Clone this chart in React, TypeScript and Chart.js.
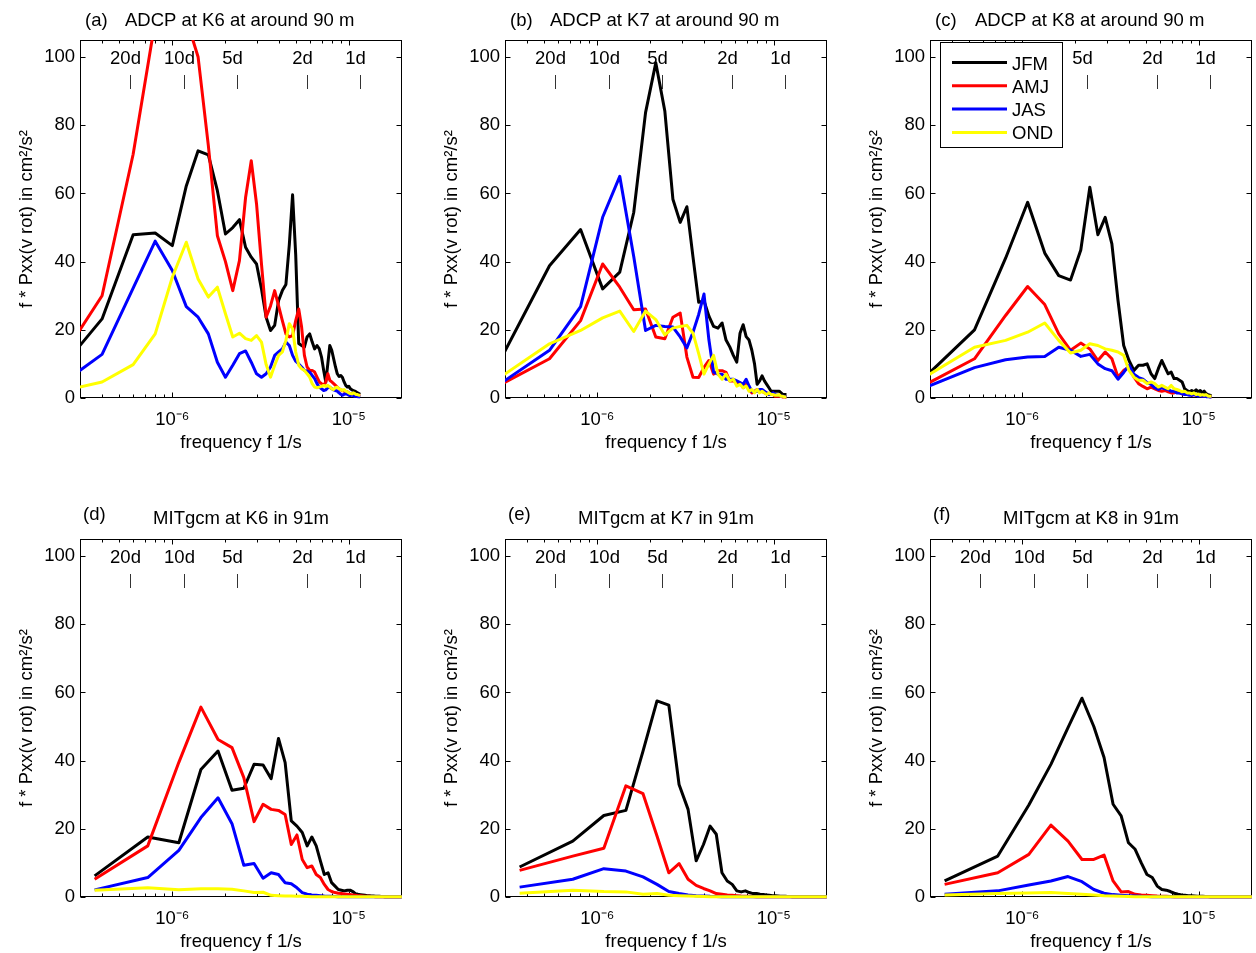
import React, { useEffect, useRef } from 'react';
import { Chart, registerables } from 'chart.js';

Chart.register(...registerables);

// ---------- DATA ----------
// frequency grids (units of 1e-7 Hz)
const FREQ_ADCP_K6 = [
  2, 4, 6, 8, 10, 12, 14, 16, 18, 20,
  22, 24, 26, 28, 30, 32, 34, 36, 38, 40,
  42, 44, 46, 48, 50, 52, 54, 56, 58, 60,
  62, 64, 66, 68, 70, 72, 74, 76, 78, 80,
  82, 84, 86, 88, 90, 92, 94, 96, 98, 100,
  102, 104, 106, 108, 110, 112, 114, 116,
];
const FREQ_ADCP_K7_K8 = [
  2.68, 5.36, 8.04, 10.72, 13.4, 16.08, 18.76, 21.44, 24.12, 26.8,
  29.48, 32.16, 34.84, 37.52, 40.2, 42.88, 45.56, 48.24, 50.92, 53.6,
  56.28, 58.96, 61.64, 64.32, 67.0, 69.68, 72.36, 75.04, 77.72, 80.4,
  83.08, 85.76, 88.44, 91.12, 93.8, 96.48, 99.16, 101.84, 104.52, 107.2,
  109.88, 112.56, 115.24, 117.92,
];
const FREQ_MITGCM = [
  3.63, 7.26, 10.89, 14.52, 18.15, 21.78, 25.41, 29.04, 32.67, 36.3,
  39.93, 43.56, 47.19, 50.82, 54.45, 58.08, 61.71, 65.34, 68.97, 72.6,
  76.23, 79.86, 83.49, 87.12, 90.75, 94.38, 98.01, 101.64, 105.27, 108.9,
  112.53, 116.16, 119.79, 123.42, 127.05, 130.68, 134.31, 137.94, 141.57, 145.2,
  148.83, 152.46, 156.09, 159.72, 163.35, 166.98, 170.61, 174.24, 177.87, 181.5,
  185.13, 188.76, 192.39, 196.02, 199.65,
];

const SEASONS = ['JFM', 'AMJ', 'JAS', 'OND'];
const SEASON_COLORS = ['#000000', '#ff0000', '#0000ff', '#ffff00'];

// (a) ADCP K6
const A_JFM = [
  4.4, 23.2, 47.9, 48.4, 44.7, 62.2, 72.5, 71.3, 60.8, 48.1,
  50, 52.3, 44.2, 41.3, 39.3, 32, 23.7, 19.8, 21.3, 28.6,
  31.5, 33.3, 45, 59.6, 42, 16, 15.4, 14.9, 17.9, 18.8,
  16.4, 14.4, 15.4, 14.4, 12, 8.1, 4.7, 10, 15.4, 14,
  11.5, 9.1, 7.1, 6.3, 6.6, 6, 4.7, 3.7, 3.2, 3.4,
  2.7, 2.4, 2.2, 2, 1.8, 1.5, 1.3, 1.1,
];
const A_AMJ = [
  5.9, 30, 71.5, 110.6, 125, 111.3, 100, 74, 47.6, 40,
  31.5, 40.3, 58.8, 69.6, 56.9, 39.3, 23.7, 27, 31.5, 27,
  22.7, 18.8, 17.9, 18.3, 22.7, 26.1, 20.8, 12.5, 9.1, 8.1,
  8.1, 7.6, 6.1, 4.7, 4.2, 3.7, 4.7, 7.1, 5.2, 4.7,
  4.2, 3.7, 3.2, 2.7, 2.4, 2.2, 2, 1.8, 1.8, 1.5,
  1.3, 1.3, 1.1, 1, 0.9, 0.8, 0.7, 0.6,
];
const A_JAS = [
  1.5, 12.8, 32.2, 46, 37.4, 26.8, 23.7, 18.8, 10.5, 6.1,
  9.6, 13, 13.8, 10.5, 7.1, 6.1, 7.1, 9.1, 12.5, 13.5,
  14.4, 16.4, 15.4, 12.5, 10.8, 10, 9.1, 8.1, 7.9, 7.6,
  6.6, 5.7, 4.2, 3.2, 2.7, 2.2, 2.4, 3, 3.2, 2.7,
  2.4, 2.2, 2, 1.5, 1.1, 0.8, 1.1, 1.3, 1.1, 0.8,
  0.7, 0.9, 0.7, 0.5, 0.5, 0.4, 0.4, 0.3,
];
const A_OND = [
  1.1, 4.7, 9.8, 18.8, 35.4, 45.7, 34.9, 29.6, 32.5, 24.7,
  17.9, 19, 17.4, 16.9, 18.3, 16.4, 9.8, 6.1, 9.6, 12.5,
  13.5, 16.9, 21.8, 20.3, 13.5, 9.6, 8.6, 8.1, 7.1, 6.1,
  4.2, 3.2, 3, 3.2, 3.4, 3.7, 3.4, 3.7, 3.2, 2.7,
  2.5, 3, 3.2, 2.7, 2.5, 2.2, 2.5, 2, 1.8, 1.5,
  1.3, 1.2, 1.5, 1.3, 1, 1, 0.8, 0.8,
];

// (b) ADCP K7
const B_JFM = [
  8.95, 38.8, 49.4, 32, 36.9, 54.4, 83.7, 98.3, 84.2, 58.3,
  51.5, 56.1, 41.3, 28.1, 28.5, 24, 21, 20.5, 22, 17,
  15, 12.5, 10.5, 19, 21.5, 18, 17, 14, 10, 4,
  5, 6.5, 5, 4, 3, 2, 2, 2, 2, 2,
  1.5, 1, 1, 1,
];
const B_AMJ = [
  3.3, 11.5, 22.7, 39.3, 32.5, 25.9, 26.1, 17.9, 17.4, 23.7,
  24.9, 12, 6.1, 6, 9, 11, 7, 8, 8, 7.5,
  5, 5, 4.5, 4.5, 3, 4, 2.5, 1.5, 2, 2.5,
  2, 2, 1.5, 1.5, 1, 1, 1, 0.5, 0.5, 0.5,
  0.5, 0.3, 0.3, 0.2,
];
const B_JAS = [
  3.4, 14, 26.8, 53, 65, 41.5, 19.8, 21.3, 21, 20.8,
  17.9, 14.7, 19.3, 24.5, 30.5, 17, 7.6, 7, 7, 5.5,
  5.5, 5.5, 5, 4.5, 4, 5.5, 3.5, 2, 1.8, 2,
  2.5, 2.5, 2, 1.5, 1, 1, 1.5, 1, 0.8, 0.8,
  0.5, 0.5, 0.4, 0.3,
];
const B_OND = [
  5.3, 15.9, 19.8, 23.5, 25.5, 19.5, 25.5, 23, 18.5, 20.5,
  21, 21.3, 19, 13, 7, 10, 12.5, 7, 5.5, 7,
  5, 5.5, 3.5, 4, 3, 3.5, 2, 2.5, 1.5, 2.5,
  1.5, 2, 1.5, 1, 1.5, 1, 1, 0.8, 0.8, 1,
  0.5, 0.5, 0.3, 0.3,
];

// (c) ADCP K8
const C_JFM = [
  5.1, 20, 41, 57.4, 42.5, 35.9, 34.6, 43.4, 61.8, 47.9,
  53, 45.2, 28.6, 15.4, 11, 8.1, 9.6, 9.6, 10, 7.1,
  5.7, 8.6, 11, 9, 7.1, 7.6, 5.7, 5.7, 5.2, 4.7,
  2.7, 2.2, 1.8, 2.2, 1.8, 2.4, 1.8, 2.2, 1.5, 2,
  1.3, 1, 0.8, 0.6,
];
const C_AMJ = [
  3.3, 11.5, 24.2, 32.7, 27.4, 18.8, 14, 16.1, 14.4, 11,
  13.5, 11.5, 6.1, 8.1, 9, 6.1, 4.2, 3.4, 2.7, 3.2,
  2.7, 2.2, 2, 2.2, 1.8, 1.5, 1.5, 1.8, 1.5, 1.2,
  1.3, 1, 1.2, 0.8, 1, 0.8, 0.7, 0.8, 0.6, 0.6,
  0.5, 0.5, 0.4, 0.4,
];
const C_JAS = [
  2.6, 8.9, 11.2, 12, 12.2, 14.9, 14, 12.2, 12.8, 10,
  8.6, 8, 5.5, 7.5, 9.6, 7, 6, 5.5, 4.5, 4,
  3, 2.5, 3, 2.7, 2.5, 2, 2, 1.5, 1.5, 1.2,
  1, 1, 0.8, 0.8, 1, 0.8, 0.6, 0.6, 0.5, 0.5,
  0.4, 0.4, 0.3, 0.3,
];
const C_OND = [
  5.5, 14.9, 16.9, 19.3, 22, 16.9, 13.2, 14, 15.9, 15.4,
  14.4, 14, 13.5, 12.5, 8.1, 6.1, 5.2, 5.2, 4.2, 4.7,
  4.2, 3.2, 3.7, 3.2, 2.7, 3.7, 2.7, 2.5, 2.2, 1.8,
  2, 1.5, 1.5, 1.2, 1.5, 1, 1.2, 0.8, 1, 0.8,
  1, 0.6, 0.5, 0.5,
];

// (d) MITgcm K6
const D_JFM = [
  6.2, 17.6, 15.9, 37.4, 42.8, 31.3, 31.9, 38.9, 38.7, 34.7,
  46.5, 39.4, 22.3, 20.8, 18.9, 15, 17.6, 15, 10.6, 6.6,
  7.1, 4.2, 3.2, 2.2, 2, 1.8, 2, 2, 1.6, 1,
  0.8, 0.7, 0.6, 0.5, 0.4, 0.35, 0.3, 0.3, 0.25, 0.2,
  0.2, 0.15, 0.15, 0.1, 0.1, 0.1, 0.1, 0.1, 0.05, 0.05,
  0.05, 0.05, 0.05, 0.05, 0.05,
];
const D_AMJ = [
  5.2, 15, 39.5, 55.7, 46.2, 43.8, 35, 22.1, 27.2, 25.7,
  25.4, 24.2, 15.4, 18.2, 11, 8.6, 9.1, 6.6, 5.7, 3.7,
  2.2, 1.6, 1.3, 1.1, 1, 0.9, 0.8, 0.7, 0.6, 0.5,
  0.4, 0.35, 0.3, 0.25, 0.2, 0.2, 0.15, 0.15, 0.1, 0.1,
  0.1, 0.1, 0.05, 0.05, 0.05, 0.05, 0.05, 0.05, 0.05, 0.05,
  0.05, 0.05, 0.05, 0.05, 0.05,
];
const D_JAS = [
  2.1, 5.7, 13.7, 23.3, 29.1, 21.5, 9.3, 9.8, 5.5, 7.1,
  6.6, 4.2, 3.9, 2.7, 1.3, 0.8, 0.6, 0.5, 0.4, 0.3,
  0.25, 0.2, 0.15, 0.1, 0.1, 0.1, 0.05, 0.05, 0.05, 0.05,
  0.05, 0.05, 0.05, 0.05, 0.05, 0.05, 0.05, 0.05, 0.05, 0.05,
  0.05, 0.05, 0.05, 0.05, 0.05, 0.05, 0.05, 0.05, 0.05, 0.05,
  0.05, 0.05, 0.05, 0.05, 0.05,
];
const D_OND = [
  2, 2.7, 2.1, 2.4, 2.4, 2.3, 1.8, 1.3, 1.4, 0.5,
  0.4, 0.3, 0.3, 0.2, 0.2, 0.15, 0.1, 0.1, 0.1, 0.1,
  0.05, 0.05, 0.05, 0.05, 0.05, 0.05, 0.05, 0.05, 0.05, 0.05,
  0.05, 0.05, 0.05, 0.05, 0.05, 0.05, 0.05, 0.05, 0.05, 0.05,
  0.05, 0.05, 0.05, 0.05, 0.05, 0.05, 0.05, 0.05, 0.05, 0.05,
  0.05, 0.05, 0.05, 0.05, 0.05,
];

// (e) MITgcm K7
const E_JFM = [
  8.8, 16.4, 23.9, 25.4, 42.8, 57.5, 56.3, 33, 25.7, 10.6,
  15.4, 20.8, 18.4, 7.1, 4.7, 3.7, 1.8, 1.5, 1.8, 1.3,
  1, 1, 0.8, 0.7, 0.6, 0.5, 0.4, 0.35, 0.3, 0.25,
  0.2, 0.2, 0.15, 0.15, 0.1, 0.1, 0.1, 0.1, 0.1, 0.05,
  0.05, 0.05, 0.05, 0.05, 0.05, 0.05, 0.05, 0.05, 0.05, 0.05,
  0.05, 0.05, 0.05, 0.05, 0.05,
];
const E_AMJ = [
  7.8, 12, 14.3, 32.6, 30.3, 17.9, 7.1, 9.8, 5.2, 3.4,
  2.5, 1.8, 1, 0.8, 0.6, 0.5, 0.4, 0.3, 0.25, 0.2,
  0.15, 0.1, 0.1, 0.1, 0.1, 0.05, 0.05, 0.05, 0.05, 0.05,
  0.05, 0.05, 0.05, 0.05, 0.05, 0.05, 0.05, 0.05, 0.05, 0.05,
  0.05, 0.05, 0.05, 0.05, 0.05, 0.05, 0.05, 0.05, 0.05, 0.05,
  0.05, 0.05, 0.05, 0.05, 0.05,
];
const E_JAS = [
  2.9, 5.2, 8.3, 7.6, 5.9, 3.7, 1.6, 1, 0.6, 0.4,
  0.3, 0.2, 0.15, 0.1, 0.1, 0.1, 0.05, 0.05, 0.05, 0.05,
  0.05, 0.05, 0.05, 0.05, 0.05, 0.05, 0.05, 0.05, 0.05, 0.05,
  0.05, 0.05, 0.05, 0.05, 0.05, 0.05, 0.05, 0.05, 0.05, 0.05,
  0.05, 0.05, 0.05, 0.05, 0.05, 0.05, 0.05, 0.05, 0.05, 0.05,
  0.05, 0.05, 0.05, 0.05, 0.05,
];
const E_OND = [
  1.1, 2, 1.6, 1.5, 0.8, 1, 0.5, 0.4, 0.3, 0.2,
  0.15, 0.1, 0.1, 0.1, 0.05, 0.05, 0.05, 0.05, 0.05, 0.05,
  0.05, 0.05, 0.05, 0.05, 0.05, 0.05, 0.05, 0.05, 0.05, 0.05,
  0.05, 0.05, 0.05, 0.05, 0.05, 0.05, 0.05, 0.05, 0.05, 0.05,
  0.05, 0.05, 0.05, 0.05, 0.05, 0.05, 0.05, 0.05, 0.05, 0.05,
  0.05, 0.05, 0.05, 0.05, 0.05,
];

// (f) MITgcm K8
const F_JFM = [
  4.7, 12, 27, 38.9, 49.7, 58.3, 50, 40.9, 27.2, 23.8,
  15.9, 14, 10, 6.6, 5.7, 3.2, 2.2, 2, 1.6, 1.1,
  0.8, 0.6, 0.5, 0.4, 0.35, 0.3, 0.25, 0.2, 0.2, 0.15,
  0.15, 0.1, 0.1, 0.1, 0.1, 0.1, 0.05, 0.05, 0.05, 0.05,
  0.05, 0.05, 0.05, 0.05, 0.05, 0.05, 0.05, 0.05, 0.05, 0.05,
  0.05, 0.05, 0.05, 0.05, 0.05,
];
const F_AMJ = [
  3.7, 7.1, 12.5, 21.1, 16.4, 11, 11, 12.3, 4.7, 1.5,
  1.6, 0.8, 0.6, 0.5, 0.4, 0.3, 0.25, 0.2, 0.15, 0.1,
  0.1, 0.1, 0.05, 0.05, 0.05, 0.05, 0.05, 0.05, 0.05, 0.05,
  0.05, 0.05, 0.05, 0.05, 0.05, 0.05, 0.05, 0.05, 0.05, 0.05,
  0.05, 0.05, 0.05, 0.05, 0.05, 0.05, 0.05, 0.05, 0.05, 0.05,
  0.05, 0.05, 0.05, 0.05, 0.05,
];
const F_JAS = [
  0.8, 1.8, 3.5, 4.7, 6, 4.5, 2.2, 1.1, 0.7, 0.5,
  0.4, 0.3, 0.2, 0.15, 0.1, 0.1, 0.05, 0.05, 0.05, 0.05,
  0.05, 0.05, 0.05, 0.05, 0.05, 0.05, 0.05, 0.05, 0.05, 0.05,
  0.05, 0.05, 0.05, 0.05, 0.05, 0.05, 0.05, 0.05, 0.05, 0.05,
  0.05, 0.05, 0.05, 0.05, 0.05, 0.05, 0.05, 0.05, 0.05, 0.05,
  0.05, 0.05, 0.05, 0.05, 0.05,
];
const F_OND = [
  0.6, 1, 1.2, 1.3, 1, 0.8, 0.6, 0.4, 0.3, 0.2,
  0.15, 0.1, 0.1, 0.1, 0.05, 0.05, 0.05, 0.05, 0.05, 0.05,
  0.05, 0.05, 0.05, 0.05, 0.05, 0.05, 0.05, 0.05, 0.05, 0.05,
  0.05, 0.05, 0.05, 0.05, 0.05, 0.05, 0.05, 0.05, 0.05, 0.05,
  0.05, 0.05, 0.05, 0.05, 0.05, 0.05, 0.05, 0.05, 0.05, 0.05,
  0.05, 0.05, 0.05, 0.05, 0.05,
];

// axis ticks / labels
const X_TICK_VALUES = [1e-6, 1e-5];
const X_TICK_LABELS = ['10\u207B\u2076', '10\u207B\u2075'];
const Y_TICKS = [0, 20, 40, 60, 80, 100];
const PERIOD_DAYS = [20, 10, 5, 2, 1];
const PERIOD_LABELS = ['20d', '10d', '5d', '2d', '1d'];
const X_TITLE = 'frequency f 1/s';
const Y_TITLE = 'f * Pxx(v rot) in cm\u00B2/s\u00B2';

const PANELS = [
  { letter: '(a)', title: 'ADCP at K6 at around 90 m', row: 0, col: 0, freq: FREQ_ADCP_K6, series: [A_JFM, A_AMJ, A_JAS, A_OND], legend: false },
  { letter: '(b)', title: 'ADCP at K7 at around 90 m', row: 0, col: 1, freq: FREQ_ADCP_K7_K8, series: [B_JFM, B_AMJ, B_JAS, B_OND], legend: false },
  { letter: '(c)', title: 'ADCP at K8 at around 90 m', row: 0, col: 2, freq: FREQ_ADCP_K7_K8, series: [C_JFM, C_AMJ, C_JAS, C_OND], legend: true },
  { letter: '(d)', title: 'MITgcm at K6 in 91m', row: 1, col: 0, freq: FREQ_MITGCM, series: [D_JFM, D_AMJ, D_JAS, D_OND], legend: false },
  { letter: '(e)', title: 'MITgcm at K7 in 91m', row: 1, col: 1, freq: FREQ_MITGCM, series: [E_JFM, E_AMJ, E_JAS, E_OND], legend: false },
  { letter: '(f)', title: 'MITgcm at K8 in 91m', row: 1, col: 2, freq: FREQ_MITGCM, series: [F_JFM, F_AMJ, F_JAS, F_OND], legend: false },
];

// ---------- STYLE / LAYOUT ----------
const FONT = '"Liberation Sans", Arial, Helvetica, sans-serif';
const FS = 18.5;
const CANVAS_W = 406;
const CANVAS_H = 470;
const COL_LEFT = [0, 425, 850];
const ROW_TOP = [0, 499];
const X_MIN = 3e-7;
const X_MAX = 2e-5;
const Y_MIN = 0;
const Y_MAX = 105;

Chart.defaults.font.family = FONT;
Chart.defaults.color = '#000';

const crisp = (v: number) => Math.round(v) + 0.5;

const framePlugin = {
  id: 'matlabFrame',
  beforeDatasetsDraw(chart: any) {
    const { ctx, chartArea } = chart;
    const { left, right, top, bottom } = chartArea;
    const xs = chart.scales.x;
    const ys = chart.scales.y;
    ctx.save();
    ctx.strokeStyle = '#000';
    ctx.lineWidth = 1;
    const L = crisp(left), R = crisp(right - 1), T = crisp(top), B = crisp(bottom - 1);
    ctx.strokeRect(L, T, R - L, B - T);
    ctx.beginPath();
    for (const v of Y_TICKS) {
      const p = crisp(ys.getPixelForValue(v));
      ctx.moveTo(L, p); ctx.lineTo(L + 5, p);
      ctx.moveTo(R, p); ctx.lineTo(R - 5, p);
    }
    for (let e = -7; e <= -5; e++) {
      for (let m = 1; m <= 9; m++) {
        const v = m * Math.pow(10, e);
        if (v <= X_MIN || v >= X_MAX) continue;
        const p = crisp(xs.getPixelForValue(v));
        const len = m === 1 ? 5 : 3;
        ctx.moveTo(p, B); ctx.lineTo(p, B - len);
        ctx.moveTo(p, T); ctx.lineTo(p, T + len);
      }
    }
    ctx.stroke();

    // period markers
    ctx.strokeStyle = '#333';
    ctx.fillStyle = '#000';
    ctx.font = `${FS}px ${FONT}`;
    ctx.textAlign = 'center';
    ctx.textBaseline = 'alphabetic';
    ctx.beginPath();
    PERIOD_DAYS.forEach((d, i) => {
      const f = 1 / (d * 86400);
      const p = crisp(xs.getPixelForValue(f));
      ctx.moveTo(p, top + 35); ctx.lineTo(p, top + 49);
      ctx.fillText(PERIOD_LABELS[i], p - 5, top + 24);
    });
    ctx.stroke();
    ctx.restore();
  },
};

const titlePlugin = {
  id: 'panelTitle',
  afterDraw(chart: any, _args: any, opts: any) {
    const { ctx, chartArea } = chart;
    const { left, right } = chartArea;
    ctx.save();
    ctx.fillStyle = '#000';
    ctx.font = `${FS}px ${FONT}`;
    ctx.textBaseline = 'alphabetic';
    if (opts.row === 0) {
      ctx.textAlign = 'left';
      ctx.fillText(opts.letter, left + 5, 26);
      ctx.fillText(opts.title, left + 45, 26);
    } else {
      ctx.textAlign = 'left';
      ctx.fillText(opts.letter, left + 3, 21);
      ctx.textAlign = 'center';
      ctx.fillText(opts.title, (left + right) / 2, 25);
    }
    ctx.restore();
  },
};

const legendPlugin = {
  id: 'insetLegend',
  afterDatasetsDraw(chart: any, _args: any, opts: any) {
    if (!opts || !opts.show) return;
    const { ctx, chartArea } = chart;
    const x0 = chartArea.left + 10;
    const y0 = chartArea.top + 2;
    const w = 122;
    const h = 105;
    ctx.save();
    ctx.fillStyle = '#fff';
    ctx.fillRect(x0, y0, w, h);
    ctx.strokeStyle = '#000';
    ctx.lineWidth = 1;
    ctx.strokeRect(crisp(x0), crisp(y0), w, h);
    ctx.font = `${FS}px ${FONT}`;
    ctx.textAlign = 'left';
    ctx.textBaseline = 'alphabetic';
    chart.data.datasets.forEach((ds: any, i: number) => {
      const ly = y0 + 20.5 + i * 23.3;
      ctx.strokeStyle = ds.borderColor;
      ctx.lineWidth = 3;
      ctx.beginPath();
      ctx.moveTo(x0 + 12, ly);
      ctx.lineTo(x0 + 67, ly);
      ctx.stroke();
      ctx.fillStyle = '#000';
      ctx.fillText(ds.label, x0 + 72, ly + 7);
    });
    ctx.restore();
  },
};

function Panel({ cfg }: { cfg: any }) {
  const ref = useRef<HTMLCanvasElement>(null);
  useEffect(() => {
    const canvas = ref.current;
    if (!canvas) return;
    const chart = new Chart(canvas, {
      type: 'line',
      data: {
        datasets: cfg.series.map((vals: number[], i: number) => ({
          label: SEASONS[i],
          data: vals.map((y: number, j: number) => ({ x: cfg.freq[j] * 1e-7, y })),
          borderColor: SEASON_COLORS[i],
          backgroundColor: SEASON_COLORS[i],
          borderWidth: 3,
          pointRadius: 0,
          pointHoverRadius: 0,
          tension: 0,
          fill: false,
          order: 3 - i,
          borderJoinStyle: 'round',
          clip: { left: 0, top: 0, right: 0, bottom: 3 },
        })),
      },
      options: {
        animation: false,
        responsive: false,
        devicePixelRatio: 1,
        events: [],
        parsing: true,
        layout: { padding: { left: 0, top: 40, right: 4, bottom: 0 } },
        plugins: {
          legend: { display: false },
          tooltip: { enabled: false },
          title: { display: false },
          panelTitle: { row: cfg.row, letter: cfg.letter, title: cfg.title },
          insetLegend: { show: cfg.legend },
        } as any,
        scales: {
          x: {
            type: 'logarithmic',
            min: X_MIN,
            max: X_MAX,
            position: 'bottom',
            grid: { display: false, drawTicks: false },
            border: { display: false },
            afterBuildTicks: (s: any) => { s.ticks = X_TICK_VALUES.map((v) => ({ value: v })); },
            afterFit: (s: any) => { s.height = 72; },
            ticks: {
              autoSkip: false,
              maxRotation: 0,
              minRotation: 0,
              padding: 11,
              color: '#000',
              font: { size: FS, family: FONT },
              callback: (_v: any, idx: number) => X_TICK_LABELS[idx],
            },
            title: {
              display: true,
              text: X_TITLE,
              color: '#000',
              font: { size: FS, family: FONT },
              padding: { top: 0, bottom: 16 },
            },
          },
          y: {
            type: 'linear',
            min: Y_MIN,
            max: Y_MAX,
            position: 'left',
            grid: { display: false, drawTicks: false },
            border: { display: false },
            afterBuildTicks: (s: any) => { s.ticks = Y_TICKS.map((v) => ({ value: v })); },
            afterFit: (s: any) => { s.width = 80; },
            ticks: {
              padding: 5,
              color: '#000',
              font: { size: FS, family: FONT },
              callback: (v: any) => String(v),
            },
            title: {
              display: true,
              text: Y_TITLE,
              color: '#000',
              font: { size: FS, family: FONT },
              padding: { top: 16, bottom: 0 },
            },
          },
        } as any,
      },
      plugins: [framePlugin, titlePlugin, legendPlugin],
    } as any);
    return () => chart.destroy();
  }, [cfg]);
  return (
    <canvas
      ref={ref}
      width={CANVAS_W}
      height={CANVAS_H}
      style={{ position: 'absolute', left: COL_LEFT[cfg.col], top: ROW_TOP[cfg.row], width: CANVAS_W, height: CANVAS_H }}
    />
  );
}

export default function App() {
  return (
    <div style={{ position: 'absolute', left: 0, top: 0, width: 1256, height: 953, background: '#fff' }}>
      {PANELS.map((p) => (
        <Panel key={p.letter} cfg={p} />
      ))}
    </div>
  );
}
